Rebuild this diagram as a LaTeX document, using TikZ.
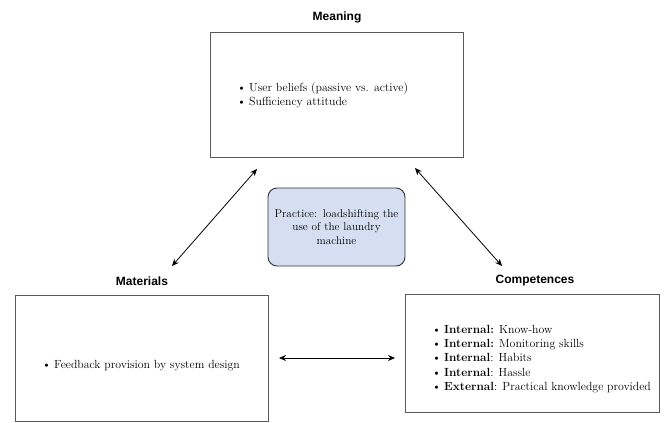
\documentclass[tikz,border=0pt]{standalone}
\usepackage{fontspec}
\newfontfamily\headfont{Liberation Sans}
\usetikzlibrary{arrows.meta,positioning}
\definecolor{spEdge}{HTML}{5A5A5A}
\definecolor{spDark}{HTML}{333333}
\definecolor{spPale}{HTML}{D5DFF1}
\tikzset{
  sp box/.style={draw=spEdge, line width=1pt, inner sep=0pt},
  sp core/.style={draw=spDark, fill=spPale, line width=0.9pt, rounded corners=9pt, inner sep=0pt, minimum width=137pt, minimum height=78pt},
  sp title/.style={font=\headfont\bfseries\fontsize{12}{14}\selectfont, text=black},
  sp list/.style={font=\fontsize{11.8}{14.3}\selectfont, align=left, inner sep=0pt, anchor=west},
  sp link/.style={{Stealth[length=7pt,width=6pt]}-{Stealth[length=7pt,width=6pt]}, line width=0.8pt},
}
\newcommand{\itm}{\makebox[12pt][l]{\textbullet}}

\begin{document}
\begin{tikzpicture}[x=1pt,y=-1pt]
  \useasboundingbox (0,0) rectangle (665,423);
  % the three elements of the practice
  \node[sp box, minimum width=253pt, minimum height=125pt] (meaning) at (336.5,94.5) {};
  \node[sp box, minimum width=253pt, minimum height=126pt] (materials) at (141.5,358) {};
  \node[sp box, minimum width=254pt, minimum height=118pt] (competences) at (532,353) {};
  \node[sp title] (meaningT) at (337,17) {Meaning};
  \node[sp title] (materialsT) at (142,281) {Materials};
  \node[sp title] (competencesT) at (535,281) {Competences};
  % box contents
  \node[sp list] (meaningL) at (237,95.5) {\itm User beliefs (passive vs. active)\\ \itm Sufficiency attitude};
  \node[sp list] (materialsL) at (42,366) {\itm Feedback provision by system design};
  \node[sp list] (competencesL) at (432,359) {\itm \textbf{Internal:} Know-how\\ \itm \textbf{Internal:} Monitoring skills\\ \itm \textbf{Internal}: Habits\\ \itm \textbf{Internal}: Hassle\\ \itm \textbf{External}: Practical knowledge provided};
  % practice in the middle
  \node[sp core, font=\fontsize{11.3}{13.5}\selectfont, align=center, text width=134pt] (practice) at (336.5,227) {Practice: loadshifting the\\ use of the laundry\\ machine};
  % links between elements
  \coordinate (mL) at (257,169);
  \coordinate (aL) at (172,266);
  \coordinate (mR) at (415,168);
  \coordinate (cR) at (502,266);
  \coordinate (aH) at (279,358);
  \coordinate (cH) at (395,358);
  \draw[sp link] (mL) -- (aL);
  \draw[sp link] (mR) -- (cR);
  \draw[sp link] (aH) -- (cH);
\end{tikzpicture}
\end{document}
